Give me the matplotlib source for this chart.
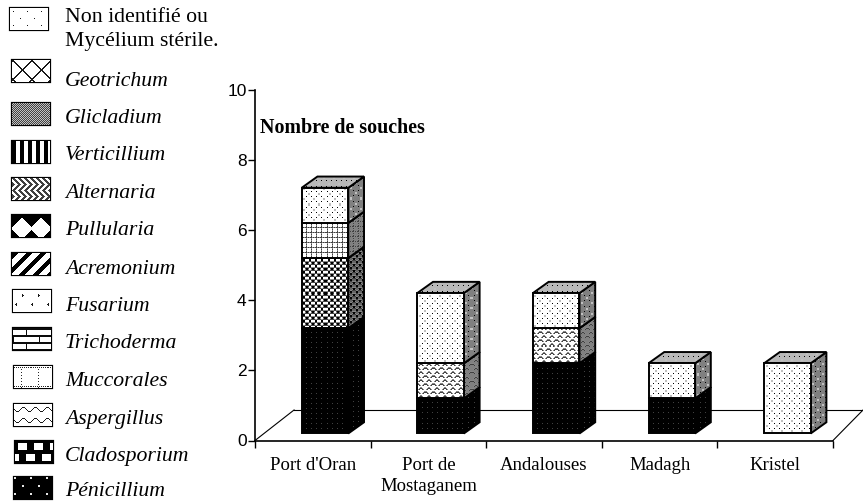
import matplotlib
matplotlib.use("Agg")
import matplotlib.pyplot as plt
from matplotlib.patches import Polygon, Rectangle
import numpy as np

W, H = 863, 501

sites = ["Port d'Oran", "Port de\nMostaganem", "Andalouses", "Madagh", "Kristel"]
penicillium = [3, 1, 2, 1, 0]
cladosporium = [2, 0, 0, 0, 0]
aspergillus = [0, 1, 1, 0, 0]
muccorales = [1, 0, 0, 0, 0]
non_identifie = [1, 2, 1, 1, 2]
yticks = [0, 2, 4, 6, 8, 10]

legend_names = ["Geotrichum", "Glicladium", "Verticillium", "Alternaria", "Pullularia",
                "Acremonium", "Fusarium", "Trichoderma", "Muccorales", "Aspergillus",
                "Cladosporium", "Pénicillium"]

# pixel patterns for the bars, space = base colour
T_NON = ["#    #    ",
         "          ",
         "  --      ",
         "  --      ",
         "          ",
         "#    #    ",
         "          ",
         "       -- ",
         "       -- ",
         "          "]
T_PEN = ["x    ",
         "     ",
         "     ",
         "     ",
         "     "]
T_CLA = ["#x  x#",
         "#+  +#",
         "xx++xx",
         "  ##  ",
         "  ##  ",
         "++xx++"]
T_ASP = ["   ++   ",
         "  +xx+  ",
         " +x  x+ ",
         "        ",
         "++     +",
         "xx+   +x",
         "  x+ +x ",
         "        "]
T_MUC = ["x+x+x",
         "+    ",
         "x    ",
         "+    ",
         "x    "]
# front / side / top base grey
BAR_STYLE = {
    "non": (T_NON, 1.0, 0.5, 0.72),
    "pen": (T_PEN, 0.0, 0.0, 0.0),
    "cla": (T_CLA, 1.0, 0.4, 0.6),
    "asp": (T_ASP, 1.0, 0.5, 0.7),
    "muc": (T_MUC, 1.0, 0.5, 0.7),
}
GREYS = {"#": 0.0, "x": 0.25, "+": 0.53, "-": 0.75}


def str_tile(rows, base=1.0):
    return np.array([[GREYS.get(c, base) for c in r] for r in rows])


def grid_tile(w, h):
    return np.mgrid[0:h, 0:w]


def swatch_tiles():
    t = {}
    y, x = grid_tile(19, 22)
    t["Geotrichum"] = 1.0 - 0.9 * (((x + y) % 19 < 2) | ((x - y) % 19 < 2))
    t["Glicladium"] = str_tile(["x-", "-x"])
    t["Verticillium"] = str_tile(["####    "])
    y, x = grid_tile(12, 12)
    t["Alternaria"] = 1.0 - 0.75 * ((x + abs(y - 6)) % 6 < 3)
    y, x = grid_tile(19, 22)
    t["Pullularia"] = 1.0 * (abs(x - 9.5) + abs(y - 13) < 11)
    y, x = grid_tile(14, 14)
    t["Acremonium"] = 1.0 * ((x + y) % 14 >= 6)
    y, x = grid_tile(16, 22)
    t["Fusarium"] = 1.0 - 0.9 * (((x % 16 == 9) & (np.isin(y, [4, 6]))) | ((x == 10) & (y == 5))
                                 | ((x == 3) & np.isin(y, [13, 15])) | ((x == 2) & (y == 14))
                                 | ((x == 9) & (y == 5)) | ((x == 3) & (y == 14)))
    y, x = grid_tile(26, 14)
    t["Trichoderma"] = 1.0 - 0.95 * ((y % 7 < 2) | ((y < 7) & (x == 13)) | ((y >= 7) & (x == 0)))
    y, x = grid_tile(17, 22)
    t["Muccorales"] = 1.0 - 0.85 * (((np.isin(y, [1, 20])) & (x % 2 == 0))
                                    | ((x == 7) & (y % 3 == 0) & (y > 1)))
    y, x = grid_tile(12, 11)
    t["Aspergillus"] = 1.0 - 0.9 * (y == np.round(5 + 2 * np.sin(x / 12 * 2 * np.pi)))
    y, x = grid_tile(16, 22)
    t["Cladosporium"] = 1.0 * (((x % 16 >= 3) & (x % 16 < 12) & (y >= 2) & (y < 9))
                               | (((x + 8) % 16 >= 3) & ((x + 8) % 16 < 12) & (y >= 13) & (y < 20)))
    y, x = grid_tile(16, 16)
    t["Pénicillium"] = 0.9 * (((x < 2) & (y < 2)) | ((x >= 8) & (x < 10) & (y >= 8) & (y < 10)))
    y, x = grid_tile(14, 14)
    t["Non"] = 1.0 - 0.9 * (((x == 3) & (y == 3)) | ((x == 10) & (y == 10)))
    return t


plt.rcParams["font.family"] = "Liberation Serif"

fig = plt.figure(figsize=(W / 100, H / 100), dpi=100)

# overlay in pixels for the legend
leg = fig.add_axes([0, 0, 1, 1])
leg.set_xlim(0, W)
leg.set_ylim(H, 0)
leg.axis("off")

ax = fig.add_axes([255 / W, 1 - 440.5 / H, 578 / W, 351 / H])
ax.patch.set_alpha(0)
ax.set_xlim(0, 5)
ax.set_ylim(0, 10)
for s in ["top", "right"]:
    ax.spines[s].set_visible(False)
for s in ["left", "bottom"]:
    ax.spines[s].set_linewidth(1.2)

ax.set_yticks(yticks)
ax.set_yticklabels([str(v) for v in yticks], family="Liberation Sans", fontsize=12.5)
ax.tick_params(axis="y", length=5, width=1, pad=1)
ax.set_xticks(range(6))
ax.set_xticklabels([""] * 6)
ax.tick_params(axis="x", length=5, width=1)
ax.set_xticks([i + 0.5 for i in range(5)], minor=True)
ax.set_xticklabels(sites, minor=True, fontsize=13.5, linespacing=1.3)
ax.tick_params(axis="x", which="minor", length=0, pad=12)

# floor
FLOOR_DY = 0.87
ax.plot([0, 0.338], [0, FLOOR_DY], color="black", lw=0.8, clip_on=False)
ax.plot([0.338, 5.26], [FLOOR_DY, FLOOR_DY], color="black", lw=0.8, clip_on=False)
ax.plot([5, 5.26], [0, FLOOR_DY], color="black", lw=0.8, clip_on=False)

BAR_L, BAR_W = 0.404, 0.403
DX, DY = 0.136, 0.32
BASE = 0.2


def tile_fill(a, pts, tile, zorder=3):
    # repeat the tile pixel for pixel over the polygon's box, clipped to the polygon
    disp = a.transData.transform(pts)
    x0, y0 = np.floor(disp.min(axis=0))
    x1, y1 = np.ceil(disp.max(axis=0))
    w, h = int(x1 - x0), int(y1 - y0)
    rep = (h // tile.shape[0] + 1, w // tile.shape[1] + 1)
    arr = np.tile(tile, rep)[:h, :w]
    (dl, db), (dr, dt) = a.transData.inverted().transform([(x0, y0), (x1, y1)])
    im = a.imshow(arr, cmap="gray", vmin=0, vmax=1, extent=(dl, dr, db, dt), origin="upper",
                  interpolation="nearest", aspect="auto", zorder=zorder)
    im.set_clip_path(Polygon(pts, closed=True, transform=a.transData))


def face(pts, tile):
    tile_fill(ax, pts, tile)
    ax.add_patch(Polygon(pts, closed=True, fill=False, edgecolor="black", lw=1.4,
                         clip_on=False, zorder=3))


def segment(i, y0, h, key):
    rows, front, side, top = BAR_STYLE[key]
    x0 = i + BAR_L
    x1 = x0 + BAR_W
    y1 = y0 + h
    face([(x1, y0), (x1 + DX, y0 + DY), (x1 + DX, y1 + DY), (x1, y1)], str_tile(rows, side))
    face([(x0, y1), (x1, y1), (x1 + DX, y1 + DY), (x0 + DX, y1 + DY)], str_tile(rows, top))
    face([(x0, y0), (x1, y0), (x1, y1), (x0, y1)], str_tile(rows, front))


for i in range(len(sites)):
    y = BASE
    for vals, key in [(penicillium, "pen"), (cladosporium, "cla"), (aspergillus, "asp"),
                      (muccorales, "muc"), (non_identifie, "non")]:
        if vals[i] > 0:
            segment(i, y, vals[i], key)
            y += vals[i]
ax.set_xlim(0, 5)
ax.set_ylim(0, 10)

leg.text(260, 133, "Nombre de souches", fontsize=14.4, fontweight="bold", ha="left", va="baseline")

# legend swatches, pixel boxes
boxes = [(10, 8), (12, 60), (12, 103), (12, 141), (12, 178), (12, 215), (12, 253),
         (13, 290), (13, 328), (14, 366), (14, 404), (15, 441), (14, 477)]
baselines = [86, 123, 160, 198, 235, 274, 311, 348, 386, 424, 461, 496]
tiles = swatch_tiles()
keys = ["Non"] + legend_names
for (x, y), k in zip(boxes, keys):
    pts = [(x, y), (x + 38, y), (x + 38, y + 22), (x, y + 22)]
    tile_fill(leg, pts, tiles[k])
    leg.add_patch(Rectangle((x, y), 38, 22, fill=False, edgecolor="black", lw=1.6))
leg.set_xlim(0, W)
leg.set_ylim(H, 0)

leg.text(65, 22, "Non identifié ou", fontsize=15.7, va="baseline")
leg.text(65, 46, "Mycélium stérile.", fontsize=15.7, va="baseline")
for name, b in zip(legend_names, baselines):
    leg.text(65, b, name, fontsize=15.7, style="italic", va="baseline")

fig.savefig("out.png", dpi=100)
